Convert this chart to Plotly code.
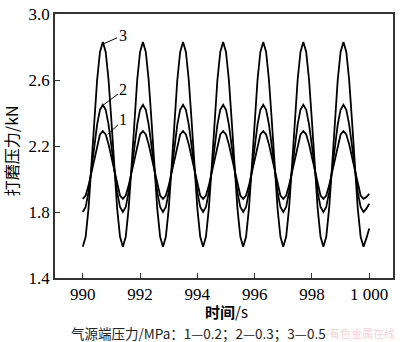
import plotly.graph_objects as go

# sample times (s), 0.1 s spacing
time_s = [round(990.0 + 0.1 * i, 1) for i in range(101)]

curve1 = [
    1.88, 1.90, 1.96, 2.04, 2.13, 2.21, 2.27, 2.29, 2.27, 2.21, 2.13, 2.04, 1.96, 1.90,
    1.88, 1.90, 1.96, 2.04, 2.13, 2.21, 2.27, 2.29, 2.27, 2.21, 2.13, 2.04, 1.96, 1.90,
    1.88, 1.90, 1.96, 2.04, 2.13, 2.21, 2.27, 2.29, 2.27, 2.21, 2.13, 2.04, 1.96, 1.90,
    1.88, 1.90, 1.96, 2.04, 2.13, 2.21, 2.27, 2.29, 2.27, 2.21, 2.13, 2.04, 1.96, 1.90,
    1.88, 1.90, 1.96, 2.04, 2.13, 2.21, 2.27, 2.29, 2.27, 2.21, 2.13, 2.04, 1.96, 1.90,
    1.88, 1.90, 1.96, 2.04, 2.13, 2.21, 2.27, 2.29, 2.27, 2.21, 2.13, 2.04, 1.96, 1.90,
    1.88, 1.90, 1.96, 2.04, 2.13, 2.21, 2.27, 2.29, 2.27, 2.21, 2.13, 2.04, 1.96, 1.90,
    1.88, 1.89, 1.91,
]
curve2 = [
    1.80, 1.83, 1.92, 2.05, 2.20, 2.33, 2.42, 2.45, 2.42, 2.33, 2.20, 2.05, 1.92, 1.83,
    1.80, 1.83, 1.92, 2.05, 2.20, 2.33, 2.42, 2.45, 2.42, 2.33, 2.20, 2.05, 1.92, 1.83,
    1.80, 1.83, 1.92, 2.05, 2.20, 2.33, 2.42, 2.45, 2.42, 2.33, 2.20, 2.05, 1.92, 1.83,
    1.80, 1.83, 1.92, 2.05, 2.20, 2.33, 2.42, 2.45, 2.42, 2.33, 2.20, 2.05, 1.92, 1.83,
    1.80, 1.83, 1.92, 2.05, 2.20, 2.33, 2.42, 2.45, 2.42, 2.33, 2.20, 2.05, 1.92, 1.83,
    1.80, 1.83, 1.92, 2.05, 2.20, 2.33, 2.42, 2.45, 2.42, 2.33, 2.20, 2.05, 1.92, 1.83,
    1.80, 1.83, 1.92, 2.05, 2.20, 2.33, 2.42, 2.45, 2.42, 2.33, 2.20, 2.05, 1.92, 1.83,
    1.80, 1.82, 1.85,
]
curve3 = [
    1.59, 1.65, 1.82, 2.07, 2.35, 2.60, 2.77, 2.83, 2.77, 2.60, 2.35, 2.07, 1.82, 1.65,
    1.59, 1.65, 1.82, 2.07, 2.35, 2.60, 2.77, 2.83, 2.77, 2.60, 2.35, 2.07, 1.82, 1.65,
    1.59, 1.65, 1.82, 2.07, 2.35, 2.60, 2.77, 2.83, 2.77, 2.60, 2.35, 2.07, 1.82, 1.65,
    1.59, 1.65, 1.82, 2.07, 2.35, 2.60, 2.77, 2.83, 2.77, 2.60, 2.35, 2.07, 1.82, 1.65,
    1.59, 1.65, 1.82, 2.07, 2.35, 2.60, 2.77, 2.83, 2.77, 2.60, 2.35, 2.07, 1.82, 1.65,
    1.59, 1.65, 1.82, 2.07, 2.35, 2.60, 2.77, 2.83, 2.77, 2.60, 2.35, 2.07, 1.82, 1.65,
    1.59, 1.65, 1.82, 2.07, 2.35, 2.60, 2.77, 2.83, 2.77, 2.60, 2.35, 2.07, 1.82, 1.65,
    1.59, 1.64, 1.70,
]

x_tickvals = [990, 992, 994, 996, 998, 1000]
x_ticktext = ["990", "992", "994", "996", "998", "1 000"]
y_tickvals = [1.4, 1.8, 2.2, 2.6, 3.0]
y_ticktext = ["1.4", "1.8", "2.2", "2.6", "3.0"]

# curve labels: (label, text x, text y, tip x, tip y)
labels = [
    ("3", 991.39, 2.87, 990.73, 2.82),
    ("2", 991.42, 2.54, 990.73, 2.45),
    ("1", 991.42, 2.36, 990.87, 2.27),
]

serif = "Times New Roman, Liberation Serif, DejaVu Serif, serif"
cjk = "Noto Sans CJK SC"

fig = go.Figure()
for ys in (curve1, curve2, curve3):
    fig.add_trace(go.Scatter(x=time_s, y=ys, mode="lines",
                             line=dict(color="black", width=1.8),
                             showlegend=False, hoverinfo="skip"))

for lab, tx, ty, px, py in labels:
    fig.add_annotation(x=px, y=py, ax=tx, ay=ty, axref="x", ayref="y",
                       xref="x", yref="y", text=lab, showarrow=True,
                       arrowhead=0, arrowwidth=1, arrowcolor="black",
                       standoff=0, startstandoff=0,
                       font=dict(family=serif, size=16, color="black"))

axis_common = dict(ticks="inside", ticklen=5, tickcolor="#333", showline=True,
                   linecolor="#333", linewidth=1.5, mirror=True, showgrid=False,
                   zeroline=False, ticklabeloverflow="allow",
                   tickfont=dict(family=serif, size=17, color="black"))

fig.update_layout(
    width=400, height=342,
    margin=dict(l=55, r=5, t=6, b=64),
    paper_bgcolor="white", plot_bgcolor="white",
    font=dict(family=serif, size=17, color="black"),
    xaxis=dict(range=[989.03, 1000.83], tickvals=x_tickvals, ticktext=x_ticktext,
               **axis_common),
    yaxis=dict(range=[1.4, 3.0], tickvals=y_tickvals, ticktext=y_ticktext,
               **axis_common),
)

fig.add_annotation(text="打磨压力/kN", xref="paper", yref="paper", x=-0.132, y=0.482,
                   textangle=-90, showarrow=False, xanchor="center", yanchor="middle",
                   font=dict(family=cjk, size=16, color="black"))
fig.add_annotation(text="<b>时间</b>/s", xref="paper", yref="paper", x=0.508, y=-0.125,
                   showarrow=False, xanchor="center", yanchor="middle",
                   font=dict(family=cjk, size=15, color="black"))
fig.add_annotation(text="气源端压力/MPa：1—0.2；2—0.3；3—0.5", xref="paper", yref="paper",
                   x=0.04, y=-0.207, showarrow=False, xanchor="left", yanchor="middle",
                   font=dict(family=cjk, size=13.5, color="#222"))
fig.add_annotation(text="有色金属在线", xref="paper", yref="paper",
                   x=1.012, y=-0.207, showarrow=False, xanchor="right", yanchor="middle",
                   font=dict(family=cjk, size=11, color="rgba(230,120,130,0.35)"))

fig.write_html("out.html")
